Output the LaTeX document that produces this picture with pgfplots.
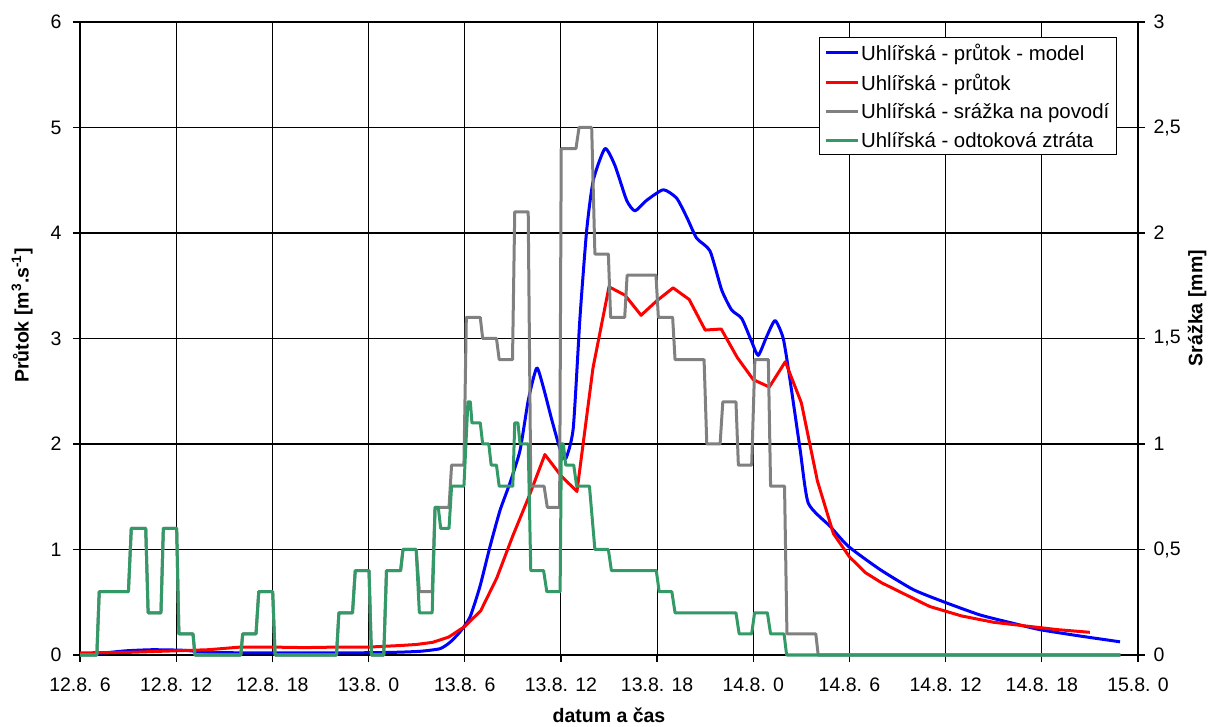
\documentclass[border=0pt]{standalone}
\usepackage{fontspec}
\setmainfont{Liberation Sans}
\usepackage{pgfplots}
\pgfplotsset{compat=1.18}

\definecolor{qmodel}{RGB}{0,0,255}
\definecolor{qobs}{RGB}{255,0,0}
\definecolor{rain}{RGB}{128,128,128}
\definecolor{loss}{RGB}{51,153,102}

\newcommand{\tickfont}{\fontsize{19.5bp}{22bp}\selectfont}
\newcommand{\legfont}{\fontsize{20.4bp}{24bp}\selectfont}
\newcommand{\labfont}{\fontsize{19.5bp}{22bp}\selectfont\bfseries}

\pgfplotsset{
  base/.style={
    scale only axis, width=1058bp, height=633bp,
    at={(80bp,71bp)}, anchor=south west,
    xmin=6, xmax=72, clip=false,
    axis line style={-, line width=2.2bp, black},
    tick style={line width=1.2bp, black},
    major tick length=7bp, tick align=outside,
    ticklabel style={font=\tickfont},
    /pgf/number format/assume math mode=true,
  },
  series/.style={line width=3bp, line join=round},
}

% hours are counted from 12.8. 0:00
\pgfplotstableread{
t q
6 0.01
7.5 0.02
8.9 0.04
10.5 0.05
12.4 0.045
14.1 0.025
16.6 0.02
19.7 0.02
22.8 0.02
25.5 0.025
27.2 0.035
28.46 0.06
29.08 0.12
29.71 0.22
30.33 0.36
30.95 0.65
31.58 1.03
32.2 1.37
32.82 1.63
33.45 1.94
33.97 2.42
34.49 2.72
34.9 2.54
35.43 2.23
35.95 1.95
36.3 1.86
36.77 2.15
37.19 3.2
37.61 4.03
38.02 4.5
38.75 4.80
39.37 4.64
40.1 4.31
40.62 4.21
41.35 4.31
42.39 4.41
43.22 4.33
43.85 4.15
44.47 3.95
45.3 3.83
46.03 3.46
46.65 3.27
47.28 3.19
47.9 2.97
48.31 2.84
48.84 3.02
49.36 3.17
49.87 3.0
50.29 2.61
50.92 1.95
51.43 1.44
52.79 1.22
53.93 1.03
55.91 0.81
57.98 0.62
59.86 0.505
62.14 0.38
64.22 0.30
65.89 0.24
68.38 0.18
70.88 0.125
}\qmodeltab

\pgfplotstableread{
t q
6 0.02
9 0.025
12 0.04
14 0.05
16 0.075
18 0.075
20 0.07
22 0.075
24 0.075
26 0.09
27 0.10
28 0.12
29 0.17
30 0.27
31 0.42
32 0.73
33 1.13
34 1.50
35 1.90
36 1.70
37 1.55
38 2.72
39 3.49
40 3.41
41 3.22
42 3.36
43 3.48
44 3.37
45 3.08
46 3.09
47 2.82
48 2.61
49 2.54
50 2.78
51 2.39
52 1.65
53 1.15
54 0.93
55 0.78
56 0.685
57 0.61
59 0.46
61 0.37
63 0.31
65 0.275
67 0.24
69 0.215
}\qobstab

\pgfplotstableread{
t p
6 0
7.05 0
7.2 0.3
9.02 0.3
9.2 0.6
10.1 0.6
10.25 0.2
11.05 0.2
11.2 0.6
12.03 0.6
12.17 0.1
13.05 0.1
13.17 0
16.03 0
16.15 0.1
16.98 0.1
17.15 0.3
18.02 0.3
18.17 0
22.0 0
22.15 0.2
23.0 0.2
23.17 0.4
24.03 0.4
24.18 0
24.95 0
25.12 0.4
26.0 0.4
26.15 0.5
26.97 0.5
27.17 0.3
27.97 0.3
28.15 0.7
29.02 0.7
29.18 0.9
29.95 0.9
30.1 1.6
30.97 1.6
31.12 1.5
31.98 1.5
32.15 1.4
32.98 1.4
33.12 2.1
33.96 2.1
34.12 0.8
34.95 0.8
35.15 0.7
35.92 0.7
36.02 2.4
36.94 2.4
37.13 2.5
37.92 2.5
38.12 1.9
38.96 1.9
39.1 1.6
39.98 1.6
40.13 1.8
41.93 1.8
42.08 1.6
42.97 1.6
43.12 1.4
44.93 1.4
45.1 1.0
45.93 1.0
46.1 1.2
46.92 1.2
47.07 0.9
47.9 0.9
48.1 1.4
48.94 1.4
49.08 0.8
49.95 0.8
50.1 0.1
51.9 0.1
52.05 0
70.9 0
}\raintab

\pgfplotstableread{
t p
6 0
7.05 0
7.2 0.3
9.02 0.3
9.2 0.6
10.1 0.6
10.25 0.2
11.05 0.2
11.2 0.6
12.03 0.6
12.17 0.1
13.05 0.1
13.17 0
16.03 0
16.15 0.1
16.98 0.1
17.15 0.3
18.02 0.3
18.17 0
22.0 0
22.15 0.2
23.0 0.2
23.17 0.4
24.03 0.4
24.18 0
24.95 0
25.12 0.4
26.0 0.4
26.15 0.5
26.97 0.5
27.17 0.2
27.97 0.2
28.15 0.7
28.35 0.7
28.5 0.6
29.02 0.6
29.18 0.8
29.95 0.8
30.2 1.2
30.35 1.2
30.45 1.1
30.97 1.1
31.12 1.0
31.5 1.0
31.65 0.9
31.98 0.9
32.15 0.8
33.0 0.8
33.12 1.1
33.32 1.1
33.45 1.0
33.96 1.0
34.12 0.4
34.92 0.4
35.12 0.3
35.95 0.3
36.03 1.0
36.15 1.0
36.3 0.9
36.8 0.9
36.98 0.8
37.78 0.8
38.12 0.5
38.96 0.5
39.15 0.4
41.95 0.4
42.13 0.3
42.92 0.3
43.12 0.2
46.92 0.2
47.12 0.1
47.9 0.1
48.08 0.2
48.88 0.2
49.08 0.1
49.92 0.1
50.08 0
70.9 0
}\losstab

\begin{document}
\begin{tikzpicture}
\path (0,0) rectangle (1211bp,726bp);

% discharge, left axis
\begin{axis}[base,
  ymin=0, ymax=6, ytick={0,1,...,6},
  xtick={6,12,...,72},
  xticklabels={12.8. 6,12.8. 12,12.8. 18,13.8. 0,13.8. 6,13.8. 12,13.8. 18,14.8. 0,14.8. 6,14.8. 12,14.8. 18,15.8. 0},
  xtick pos=left, ytick pos=left,
  xticklabel style={yshift=-12bp},
  yticklabel style={xshift=-8bp},
  grid=major, major grid style={black, line width=1.1bp},
  xlabel={datum a čas},
  xlabel style={font=\labfont, at={(axis description cs:0.5,-0.1074)}, anchor=base},
  ylabel={Průtok [m\textsuperscript{3}.s\textsuperscript{-1}]},
  ylabel style={font=\labfont, at={(axis description cs:-0.0548,0.536)}, anchor=center},
]
\addplot[series, qmodel, smooth, tension=0.35] table[x=t, y=q] {\qmodeltab};
\addplot[series, qobs] table[x=t, y=q] {\qobstab};
\end{axis}

% precipitation, right axis
\begin{axis}[base,
  ymin=0, ymax=3, ytick={0,0.5,...,3},
  axis x line=none, axis y line*=right,
  yticklabel style={/pgf/number format/use comma, xshift=5bp},
  ylabel={Srážka [mm]},
  ylabel style={font=\labfont, at={(axis description cs:1.0558,0.548)}, anchor=center},
  legend cell align=left,
  legend image code/.code={\draw[#1] (0bp,0bp) -- (32bp,0bp);},
  legend style={at={(0.980,0.976)}, anchor=north east, draw=black,
    line width=1bp, fill=white, font=\legfont, row sep=8bp,
    inner xsep=5bp, inner ysep=4bp},
]
\addlegendimage{series, qmodel}
\addlegendentry{Uhlířská - průtok - model}
\addlegendimage{series, qobs}
\addlegendentry{Uhlířská - průtok}
\addplot[series, rain] table[x=t, y=p] {\raintab};
\addlegendentry{Uhlířská - srážka na povodí}
\addplot[series, loss] table[x=t, y=p] {\losstab};
\addlegendentry{Uhlířská - odtoková ztráta}
\end{axis}
\end{tikzpicture}
\end{document}
